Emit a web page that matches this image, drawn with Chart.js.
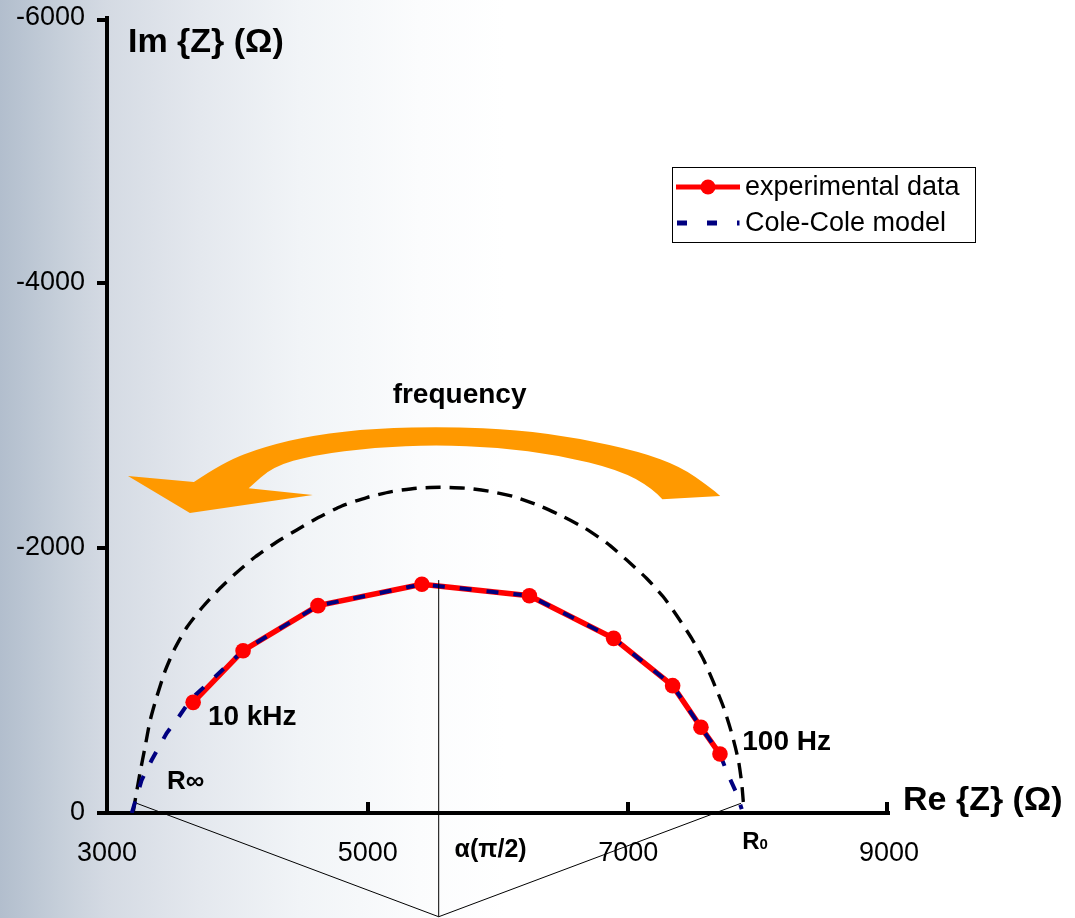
<!DOCTYPE html>
<html><head><meta charset="utf-8">
<script src="https://cdn.jsdelivr.net/npm/chart.js@4.4.0/dist/chart.umd.min.js"></script>
<style>
html,body{margin:0;padding:0;}
body{width:1075px;height:918px;overflow:hidden;
background:linear-gradient(to right,#b2becd 0%,#c6cfda 5.6%,#d4dae3 9.8%,#e4e8ee 18.6%,#f1f4f7 27.9%,#fbfcfd 39%,#ffffff 47%);}
canvas{display:block;}
</style></head><body>
<canvas id="c" width="1075" height="918"></canvas>
<script>
const FONT = '"Liberation Sans", Arial, Helvetica, sans-serif';

// tick labels
const xTicks = [3000, 5000, 7000, 9000];
const yTicks = [-6000, -4000, -2000, 0];

// series names
const seriesNames = ['experimental data', 'Cole-Cole model'];

// experimental data (Re, Im)
const expRe = [3661, 4044, 4619, 5416, 6241, 6887, 7340, 7557, 7703];
const expIm = [-835, -1225, -1565, -1726, -1640, -1318, -961, -647, -445];

// Cole-Cole model (depressed arc)
const modelRe = [3190, 3266, 3343, 3457, 3534, 3645, 4044, 4619, 5416, 6241, 6887, 7340, 7557, 7703, 7760, 7825, 7870];
const modelIm = [0, -249, -400, -602, -702, -860, -1225, -1565, -1726, -1640, -1318, -961, -647, -445, -300, -161, -30];

// ideal (non-depressed) semicircle
const idealRe = [3200, 3223, 3253, 3292, 3330, 3381, 3446, 3522, 3614, 3727, 3854, 3982, 4136, 4302, 4456, 4621, 4801, 4993, 5184, 5376, 5555, 5760, 5952, 6131, 6322, 6501, 6668, 6834, 6988, 7141, 7268, 7371, 7486, 7575, 7652, 7729, 7793, 7844, 7870, 7882, 7888];
const idealIm = [0, -136, -302, -498, -694, -875, -1072, -1245, -1404, -1547, -1683, -1804, -1932, -2045, -2136, -2230, -2317, -2381, -2426, -2451, -2458, -2451, -2425, -2385, -2317, -2236, -2149, -2038, -1909, -1770, -1632, -1491, -1318, -1162, -989, -802, -602, -400, -224, -85, 0];

const pts = (xs, ys) => xs.map((x, i) => ({x: x, y: ys[i]}));

const decor = {
  id: 'decor',
  afterDraw(chart) {
    const ctx = chart.ctx;
    const xs = chart.scales.x, ys = chart.scales.y;
    const ca = chart.chartArea;
    const P = (x, y) => [xs.getPixelForValue(x), ys.getPixelForValue(y)];
    ctx.save();
    // axis ticks
    ctx.strokeStyle = '#000'; ctx.lineWidth = 4; ctx.lineCap = 'butt';
    yTicks.forEach(v => {
      let y = Math.round(ys.getPixelForValue(v));
      if (v === -6000) y += 2;
      ctx.beginPath(); ctx.moveTo(ca.left - 10, y); ctx.lineTo(ca.left, y); ctx.stroke();
    });
    xTicks.forEach(v => {
      if (v === 3000) return;
      let x = Math.round(xs.getPixelForValue(v));
      if (v === 9000) x -= 2;
      ctx.beginPath(); ctx.moveTo(x, ca.bottom); ctx.lineTo(x, ca.bottom - 11); ctx.stroke();
    });

    // construction lines
    ctx.lineWidth = 1; ctx.strokeStyle = '#000';
    const apex = P(5545, 783);
    const a = P(3228, -73), b = P(7864, -73), t = P(5545, -1758);
    ctx.beginPath();
    ctx.moveTo(a[0], a[1]); ctx.lineTo(apex[0], apex[1]); ctx.lineTo(b[0], b[1]);
    ctx.moveTo(apex[0], apex[1]); ctx.lineTo(t[0], t[1]);
    ctx.stroke();

    // orange arrow
    const outer = [[3667,-2498],[3897,-2651],[4211,-2765],[4586,-2853],[5056,-2903],[5619,-2915],[6149,-2891],[6620,-2828],[7089,-2727],[7402,-2614],[7621,-2463],[7705,-2392]];
    const inner = [[7261,-2368],[7183,-2451],[6931,-2589],[6464,-2702],[5995,-2760],[5525,-2777],[5056,-2760],[4586,-2702],[4272,-2614],[4087,-2451]];
    const smooth = arr => {
      const p = arr.map(q => P(q[0], q[1]));
      ctx.lineTo(p[0][0], p[0][1]);
      for (let i = 1; i < p.length - 1; i++) {
        const mx = (p[i][0] + p[i + 1][0]) / 2, my = (p[i][1] + p[i + 1][1]) / 2;
        ctx.quadraticCurveTo(p[i][0], p[i][1], mx, my);
      }
      ctx.lineTo(p[p.length - 1][0], p[p.length - 1][1]);
    };
    ctx.fillStyle = '#ff9900';
    ctx.beginPath();
    const tip = P(3161, -2543);
    ctx.moveTo(tip[0], tip[1]);
    smooth(outer);
    smooth(inner);
    let q = P(4579, -2400); ctx.lineTo(q[0], q[1]);
    q = P(3636, -2264); ctx.lineTo(q[0], q[1]);
    ctx.closePath();
    ctx.fill();

    // texts
    ctx.fillStyle = '#000';
    ctx.textBaseline = 'alphabetic';
    ctx.textAlign = 'left';
    const T = (s, x, y, f) => { ctx.font = f; ctx.fillText(s, x, y); return ctx.measureText(s).width; };
    T('Im {Z} (\u03A9)', ca.left + 21, ca.top + 34, 'bold 34px ' + FONT);
    T('Re {Z} (\u03A9)', ca.right + 14, ca.bottom - 3, 'bold 34px ' + FONT);
    let p = P(5705, -3097);
    ctx.textAlign = 'center';
    T('frequency', p[0], p[1], 'bold 28px ' + FONT);
    ctx.textAlign = 'left';
    p = P(3774, -664); T('10 kHz', p[0], p[1], 'bold 28px ' + FONT);
    p = P(7874, -475); T('100 Hz', p[0], p[1], 'bold 28px ' + FONT);
    p = P(3460, -181);
    let w = T('R', p[0], p[1], 'bold 26px ' + FONT);
    T('\u221E', p[0] + w, p[1], 'bold 26px ' + FONT);
    p = P(7874, 272);
    w = T('R', p[0], p[1], 'bold 24px ' + FONT);
    T('0', p[0] + w, p[1], 'bold 15px ' + FONT);
    p = P(5667, 332);
    T('\u03B1(\u03C0/2)', p[0], p[1], 'bold 25px ' + FONT);

    // legend
    const d0 = chart.data.datasets[0], d1 = chart.data.datasets[1];
    ctx.fillStyle = '#ffffff';
    ctx.fillRect(672, 167, 304, 76);
    ctx.lineWidth = 1; ctx.strokeStyle = '#000';
    ctx.strokeRect(672.5, 167.5, 303, 75);
    ctx.strokeStyle = d0.borderColor; ctx.lineWidth = 5;
    ctx.beginPath(); ctx.moveTo(676, 187); ctx.lineTo(740, 187); ctx.stroke();
    ctx.fillStyle = d0.backgroundColor;
    ctx.beginPath(); ctx.arc(708, 187, 7.5, 0, Math.PI * 2); ctx.fill();
    ctx.strokeStyle = d1.borderColor; ctx.lineWidth = 5;
    ctx.beginPath();
    ctx.moveTo(677, 223); ctx.lineTo(687, 223);
    ctx.moveTo(707, 223); ctx.lineTo(717, 223);
    ctx.moveTo(737, 223); ctx.lineTo(739.5, 223);
    ctx.stroke();
    ctx.fillStyle = '#000';
    ctx.textBaseline = 'middle';
    T(d0.label, 745, 188, '27px ' + FONT);
    T(d1.label, 745, 224, '27px ' + FONT);
    ctx.restore();
  }
};

new Chart(document.getElementById('c').getContext('2d'), {
  type: 'scatter',
  data: {
    datasets: [
      // markers of experimental data (top)
      { label: seriesNames[0], data: pts(expRe, expIm), showLine: false,
        borderColor: '#ff0000', backgroundColor: '#ff0000',
        pointRadius: 7.8, pointHoverRadius: 7.8, pointBorderWidth: 0 },
      // Cole-Cole model dashed line
      { label: seriesNames[1], data: pts(modelRe, modelIm), showLine: true,
        borderColor: '#000080', backgroundColor: '#000080', borderWidth: 4,
        borderDash: [12, 15], pointRadius: 0, tension: 0 },
      // experimental data connecting line (under the model dashes)
      { label: seriesNames[0] + ' line', data: pts(expRe, expIm), showLine: true,
        borderColor: '#ff0000', backgroundColor: '#ff0000', borderWidth: 5.5,
        pointRadius: 0, tension: 0 },
      // ideal semicircle
      { label: 'ideal', data: pts(idealRe, idealIm), showLine: true,
        borderColor: '#000000', borderWidth: 3.4, borderDash: [15, 9],
        pointRadius: 0, tension: 0.2 }
    ]
  },
  options: {
    responsive: false, animation: false, events: [],
    layout: { padding: { left: 0, top: 18, right: 186, bottom: 0 } },
    plugins: { legend: { display: false }, tooltip: { enabled: false } },
    scales: {
      x: {
        type: 'linear', min: 3000, max: 9000,
        afterBuildTicks: s => { s.ticks = xTicks.map(v => ({ value: v })); },
        afterFit: s => { s.height = 105; s.paddingLeft = 0; s.paddingRight = 0; },
        grid: { display: false, drawTicks: false },
        border: { display: true, color: '#000', width: 4 },
        ticks: { color: '#000', font: { family: FONT, size: 27 }, padding: 24, maxRotation: 0, autoSkip: false,
                 callback: v => String(v) }
      },
      y: {
        type: 'linear', reverse: true, min: -6000, max: 0,
        afterBuildTicks: s => { s.ticks = yTicks.map(v => ({ value: v })); },
        afterFit: s => { s.width = 107; s.paddingTop = 0; s.paddingBottom = 0; },
        grid: { display: false, drawTicks: false },
        border: { display: true, color: '#000', width: 4 },
        ticks: { color: '#000', font: { family: FONT, size: 27 }, padding: 22, autoSkip: false,
                 callback: v => String(v) }
      }
    }
  },
  plugins: [decor]
});
</script>
</body></html>
